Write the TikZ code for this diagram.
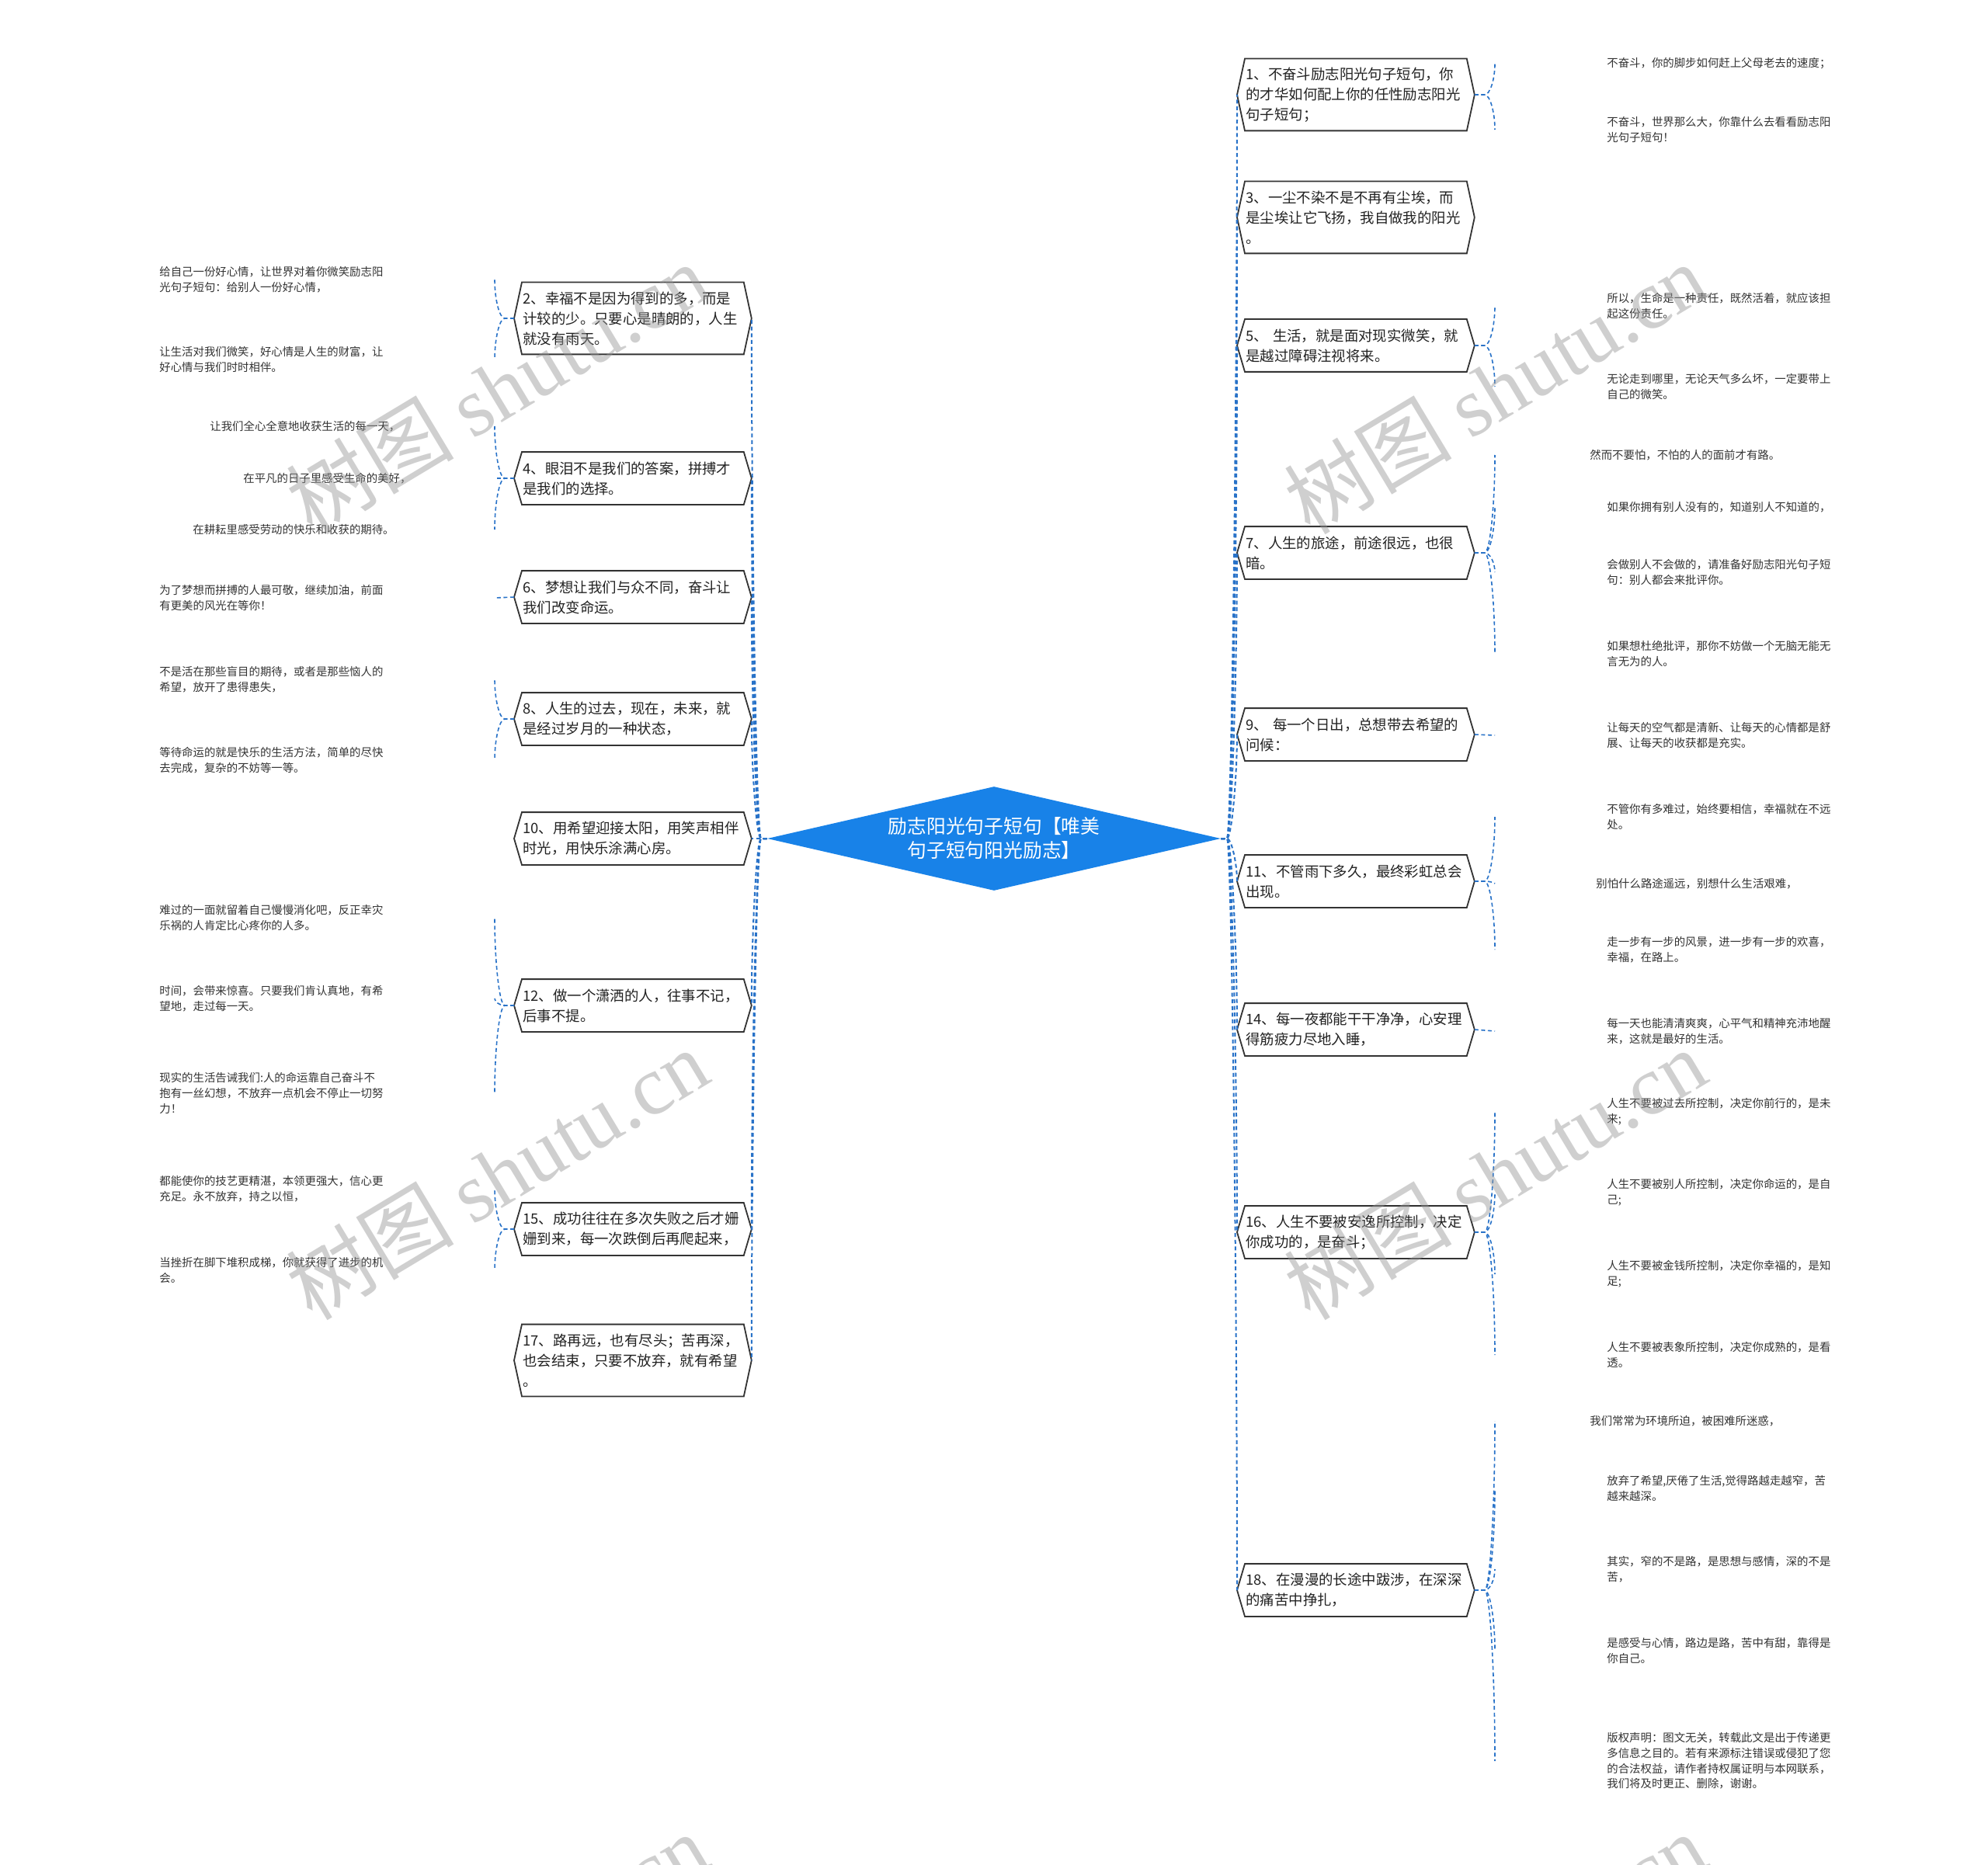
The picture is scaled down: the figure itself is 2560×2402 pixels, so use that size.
\documentclass[tikz,border=0pt]{standalone}
\usepackage{fontspec}
\setmainfont{Noto Sans CJK SC}
\newfontfamily\wmlatin{Liberation Serif}
\usetikzlibrary{calc,shapes.geometric}
\definecolor{linkblue}{RGB}{40,114,200}
\definecolor{centreblue}{RGB}{24,130,232}
\definecolor{boxedge}{HTML}{333333}
\definecolor{boxtxt}{HTML}{222222}
\definecolor{leaftxt}{HTML}{333333}
\definecolor{wmgray}{RGB}{150,150,150}
\newcommand{\bxfont}{\fontsize{9.2pt}{13pt}\selectfont}
\newcommand{\lffont}{\fontsize{7.2pt}{9.8pt}\selectfont}
\newcommand{\ctfont}{\fontsize{12.4pt}{15.5pt}\selectfont}
\newcommand{\wmfont}{\fontsize{54pt}{54pt}\selectfont}
\tikzset{
  boxtext/.style={rectangle, minimum width=142.5pt, text width=141.5pt, inner xsep=0.5pt, inner ysep=0pt, align=left, font=\bxfont, text=boxtxt},
  boxline/.style={draw=boxedge, line width=0.9pt, line join=miter},
  leaf/.style={inner sep=0pt, align=left, font=\lffont, text=leaftxt, anchor=west},
  cline/.style={draw=linkblue, line width=1pt, dash pattern=on 2.5pt off 1.8pt},
  lline/.style={draw=linkblue, line width=0.8pt, dash pattern=on 2.5pt off 1.8pt},
  centre/.style={diamond, aspect=4.36, fill=centreblue, draw=none, text=white, align=center, font=\ctfont, minimum width=292pt, minimum height=67pt, inner sep=0pt},
  wm/.style={font=\wmfont, text=wmgray, opacity=0.45, rotate=31, inner sep=0pt}
}
\newcommand{\hexnode}[5]{%
  \node[boxtext, minimum height=#4, anchor=west] (#1) at (#2,#3) {#5};
  \draw[boxline] (#1.north west) -- (#1.north east) -- ($(#1.east)+(10,0)$) coordinate (#1-r) -- (#1.south east) -- (#1.south west) -- ($(#1.west)+(-10,0)$) coordinate (#1-l) -- cycle;
}
\newcommand{\mainL}[2]{\draw[cline] (d.west) -- (jL) .. controls +(-6,0) and +(0,#2) .. (#1-r);}
\newcommand{\mainR}[2]{\draw[cline] (d.east) -- (jR) .. controls +(6,0) and +(0,#2) .. (#1-l);}
\newcommand{\leafL}[3]{\draw[lline] (#1-l) -- ++(-12,0) .. controls +(-7,0) and +(0,#3) .. (xL |- #2.west);}
\newcommand{\leafR}[3]{\draw[lline] (#1-r) -- ++(13,0) .. controls +(7,0) and +(0,#3) .. (xR |- #2.west);}
\begin{document}
\begin{tikzpicture}[x=0.5pt,y=-0.5pt]
\useasboundingbox (0,0) rectangle (2560,2402);
\fill[white] (0,0) rectangle (2560,2402);

% centre
\node[centre] (d) at (1280,1080) {励志阳光句子短句【唯美\\句子短句阳光励志】};
\coordinate (jL) at (980,1080);
\coordinate (jR) at (1580,1080);
\coordinate (xL) at (637,0);
\coordinate (xR) at (1925,0);

% left boxes
\hexnode{b2}{672}{410}{46pt}{2、幸福不是因为得到的多，而是\\计较的少。只要心是晴朗的，人生\\就没有雨天。}
\hexnode{b4}{672}{616}{33.5pt}{4、眼泪不是我们的答案，拼搏才\\是我们的选择。}
\hexnode{b6}{672}{769}{33.5pt}{6、梦想让我们与众不同，奋斗让\\我们改变命运。}
\hexnode{b8}{672}{926}{33.5pt}{8、人生的过去，现在，未来，就\\是经过岁月的一种状态，}
\hexnode{b10}{672}{1080}{33.5pt}{10、用希望迎接太阳，用笑声相伴\\时光，用快乐涂满心房。}
\hexnode{b12}{672}{1295}{33.5pt}{12、做一个潇洒的人，往事不记，\\后事不提。}
\hexnode{b15}{672}{1583}{33.5pt}{15、成功往往在多次失败之后才姗\\姗到来，每一次跌倒后再爬起来，}
\hexnode{b17}{672}{1752}{46pt}{17、路再远，也有尽头；苦再深，\\也会结束，只要不放弃，就有希望\\。}

% right boxes
\hexnode{b1}{1603}{122}{46pt}{1、不奋斗励志阳光句子短句，你\\的才华如何配上你的任性励志阳光\\句子短句；}
\hexnode{b3}{1603}{280}{46pt}{3、一尘不染不是不再有尘埃，而\\是尘埃让它飞扬，我自做我的阳光\\。}
\hexnode{b5}{1603}{445}{33.5pt}{5、 生活，就是面对现实微笑，就\\是越过障碍注视将来。}
\hexnode{b7}{1603}{712}{33.5pt}{7、人生的旅途，前途很远，也很\\暗。}
\hexnode{b9}{1603}{946}{33.5pt}{9、 每一个日出，总想带去希望的\\问候：}
\hexnode{b11}{1603}{1135}{33.5pt}{11、不管雨下多久，最终彩虹总会\\出现。}
\hexnode{b14}{1603}{1326}{33.5pt}{14、每一夜都能干干净净，心安理\\得筋疲力尽地入睡，}
\hexnode{b16}{1603}{1587}{33.5pt}{16、人生不要被安逸所控制，决定\\你成功的，是奋斗；}
\hexnode{b18}{1603}{2048}{33.5pt}{18、在漫漫的长途中跋涉，在深深\\的痛苦中挣扎，}

% main connectors
\mainL{b2}{268}
\mainL{b4}{186}
\mainL{b6}{124}
\mainL{b8}{62}
\draw[cline] (d.west) -- (b10-r);
\mainL{b12}{-86}
\mainL{b15}{-201}
\mainL{b17}{-269}
\mainR{b1}{383}
\mainR{b3}{320}
\mainR{b5}{254}
\mainR{b7}{147}
\mainR{b9}{54}
\mainR{b11}{-22}
\mainR{b14}{-98}
\mainR{b16}{-203}
\mainR{b18}{-387}

% left leaves
\node[leaf] (L2a) at (205,360) {给自己一份好心情，让世界对着你微笑励志阳\\光句子短句：给别人一份好心情，};
\node[leaf] (L2b) at (205,463) {让生活对我们微笑，好心情是人生的财富，让\\好心情与我们时时相伴。};
\node[leaf] (L4a) at (270,549) {让我们全心全意地收获生活的每一天，};
\node[leaf] (L4b) at (313,616) {在平凡的日子里感受生命的美好，};
\node[leaf] (L4c) at (248,682) {在耕耘里感受劳动的快乐和收获的期待。};
\node[leaf] (L6a) at (205,770) {为了梦想而拼搏的人最可敬，继续加油，前面\\有更美的风光在等你！};
\node[leaf] (L8a) at (205,875) {不是活在那些盲目的期待，或者是那些恼人的\\希望，放开了患得患失，};
\node[leaf] (L8b) at (205,979) {等待命运的就是快乐的生活方法，简单的尽快\\去完成，复杂的不妨等一等。};
\node[leaf] (L12a) at (205,1182) {难过的一面就留着自己慢慢消化吧，反正幸灾\\乐祸的人肯定比心疼你的人多。};
\node[leaf] (L12b) at (205,1286) {时间，会带来惊喜。只要我们肯认真地，有希\\望地，走过每一天。};
\node[leaf] (L12c) at (205,1408) {现实的生活告诫我们:人的命运靠自己奋斗不\\抱有一丝幻想，不放弃一点机会不停止一切努\\力！};
\node[leaf] (L15a) at (205,1531) {都能使你的技艺更精湛，本领更强大，信心更\\充足。永不放弃，持之以恒，};
\node[leaf] (L15b) at (205,1636) {当挫折在脚下堆积成梯，你就获得了进步的机\\会。};

% right leaves
\node[leaf] (R1a) at (2069,82) {不奋斗，你的脚步如何赶上父母老去的速度；};
\node[leaf] (R1b) at (2069,167) {不奋斗，世界那么大，你靠什么去看看励志阳\\光句子短句！};
\node[leaf] (R5a) at (2069,394) {所以，生命是一种责任，既然活着，就应该担\\起这份责任。};
\node[leaf] (R5b) at (2069,498) {无论走到哪里，无论天气多么坏，一定要带上\\自己的微笑。};
\node[leaf] (R7a) at (2047,586) {然而不要怕，不怕的人的面前才有路。};
\node[leaf] (R7b) at (2069,653) {如果你拥有别人没有的，知道别人不知道的，};
\node[leaf] (R7c) at (2069,737) {会做别人不会做的，请准备好励志阳光句子短\\句：别人都会来批评你。};
\node[leaf] (R7d) at (2069,842) {如果想杜绝批评，那你不妨做一个无脑无能无\\言无为的人。};
\node[leaf] (R9a) at (2069,947) {让每天的空气都是清新、让每天的心情都是舒\\展、让每天的收获都是充实。};
\node[leaf] (R11a) at (2069,1052) {不管你有多难过，始终要相信，幸福就在不远\\处。};
\node[leaf] (R11b) at (2055,1138) {别怕什么路途遥远，别想什么生活艰难，};
\node[leaf] (R11c) at (2069,1223) {走一步有一步的风景，进一步有一步的欢喜，\\幸福，在路上。};
\node[leaf] (R14a) at (2069,1328) {每一天也能清清爽爽，心平气和精神充沛地醒\\来，这就是最好的生活。};
\node[leaf] (R16a) at (2069,1432) {人生不要被过去所控制，决定你前行的，是未\\来;};
\node[leaf] (R16b) at (2069,1536) {人生不要被别人所控制，决定你命运的，是自\\己;};
\node[leaf] (R16c) at (2069,1641) {人生不要被金钱所控制，决定你幸福的，是知\\足;};
\node[leaf] (R16d) at (2069,1745) {人生不要被表象所控制，决定你成熟的，是看\\透。};
\node[leaf] (R18a) at (2047,1830) {我们常常为环境所迫，被困难所迷惑，};
\node[leaf] (R18b) at (2069,1917) {放弃了希望,厌倦了生活,觉得路越走越窄，苦\\越来越深。};
\node[leaf] (R18c) at (2069,2021) {其实，窄的不是路，是思想与感情，深的不是\\苦，};
\node[leaf] (R18d) at (2069,2126) {是感受与心情，路边是路，苦中有甜，靠得是\\你自己。};
\node[leaf] (R18e) at (2069,2268) {版权声明：图文无关，转载此文是出于传递更\\多信息之目的。若有来源标注错误或侵犯了您\\的合法权益，请作者持权属证明与本网联系，\\我们将及时更正、删除，谢谢。};

% leaf connectors left
\leafL{b2}{L2a}{25}
\leafL{b2}{L2b}{-26}
\leafL{b4}{L4a}{33}
\leafL{b4}{L4b}{0}
\leafL{b4}{L4c}{-33}
\draw[lline] (b6-l) -- (xL |- L6a.west);
\leafL{b8}{L8a}{25}
\leafL{b8}{L8b}{-26}
\leafL{b12}{L12a}{56}
\leafL{b12}{L12b}{4}
\leafL{b12}{L12c}{-56}
\leafL{b15}{L15a}{26}
\leafL{b15}{L15b}{-26}

% leaf connectors right
\leafR{b1}{R1a}{20}
\leafR{b1}{R1b}{-22}
\leafR{b5}{R5a}{25}
\leafR{b5}{R5b}{-26}
\leafR{b7}{R7a}{63}
\leafR{b7}{R7b}{29}
\leafR{b7}{R7c}{-12}
\leafR{b7}{R7d}{-65}
\draw[lline] (b9-r) -- (xR |- R9a.west);
\leafR{b11}{R11a}{41}
\leafR{b11}{R11b}{-1}
\leafR{b11}{R11c}{-44}
\draw[lline] (b14-r) -- (xR |- R14a.west);
\leafR{b16}{R16a}{77}
\leafR{b16}{R16b}{25}
\leafR{b16}{R16c}{-27}
\leafR{b16}{R16d}{-79}
\leafR{b18}{R18a}{109}
\leafR{b18}{R18b}{65}
\leafR{b18}{R18c}{13}
\leafR{b18}{R18d}{-39}
\leafR{b18}{R18e}{-110}

% watermarks
\begin{scope}
\clip (0,0) rectangle (2560,2402);
\node[wm] (wm1) at (640,500) {树图 {\wmlatin shutu.cn}};
\node[wm] (wm2) at (1925,500) {树图 {\wmlatin shutu.cn}};
\node[wm] (wm3) at (640,1512) {树图 {\wmlatin shutu.cn}};
\node[wm] (wm4) at (1925,1512) {树图 {\wmlatin shutu.cn}};
\node[wm] (wm5) at (640,2522) {树图 {\wmlatin shutu.cn}};
\node[wm] (wm6) at (1925,2522) {树图 {\wmlatin shutu.cn}};
\end{scope}
\end{tikzpicture}
\end{document}
